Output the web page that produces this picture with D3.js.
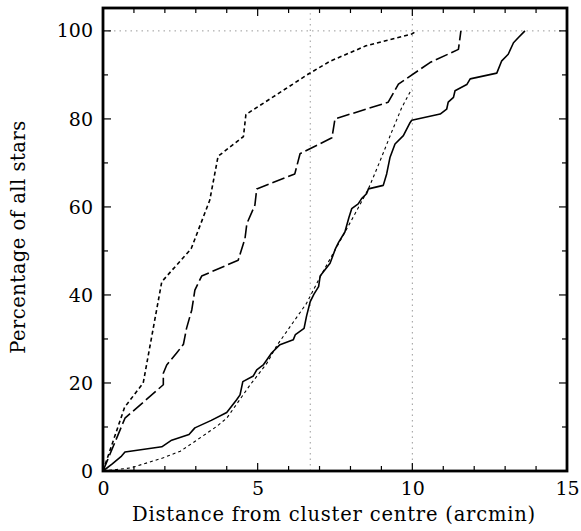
<!DOCTYPE html>
<html>
<head>
<meta charset="utf-8">
<script src="https://cdn.jsdelivr.net/npm/d3@7"></script>
<style>
  html, body { margin: 0; padding: 0; background: #fff; }
  svg { display: block; }
  text { font-family: "DejaVu Serif", "Liberation Serif", serif; fill: #000; }
</style>
</head>
<body>
<svg id="chart" width="581" height="531"></svg>
<script>
// Cumulative radial distributions: [distance (arcmin), percentage of all stars]
const brightStars = [[0,0],[0.7,14.5],[1.3,20],[1.9,43],[2.85,50.5],[3.45,61.5],[3.72,71.5],[4.54,76],[4.62,81],[5.5,85],[6.64,90.2],[7.34,93.1],[8.5,96.6],[9.98,99.3],[10.15,100]];
const intermediateStars = [[0,0],[0.71,12],[1.95,19.6],[1.95,22.2],[2.06,24.1],[2.38,26.8],[2.6,28.8],[2.7,32.4],[2.87,36.6],[2.97,41.1],[3.19,44.3],[4.37,47.9],[4.59,52.8],[4.65,56.2],[4.91,60.4],[4.97,64.1],[6.2,67.5],[6.37,72.1],[7.4,75.7],[7.5,80],[9.22,83.8],[9.55,87.9],[10.57,92.8],[11.49,95.8],[11.57,100]];
const allStars = [[0,0],[0.3,1.6],[0.6,3.4],[0.71,4.3],[1.9,5.5],[2.22,7],[2.78,8.3],[2.97,9.8],[3.5,11.5],[4.0,13.3],[4.32,16.2],[4.43,17.3],[4.52,20.3],[4.86,21.6],[4.97,23],[5.18,24.1],[5.45,26.8],[5.72,28.7],[6.15,29.8],[6.22,31],[6.5,32.4],[6.58,35.2],[6.7,38.5],[6.82,40.2],[6.97,41.9],[7.02,44.3],[7.34,47.2],[7.52,50.6],[7.62,52],[7.82,54.3],[7.95,57.6],[8.04,59.6],[8.25,60.7],[8.36,61.9],[8.52,63],[8.58,64.1],[9.06,64.9],[9.17,67.5],[9.28,71.3],[9.44,74.3],[9.71,76.2],[9.93,79.2],[9.98,79.7],[10.9,81.1],[11.11,82.2],[11.16,83.8],[11.33,84.9],[11.38,86.4],[11.76,87.8],[11.87,89.1],[12.73,90.4],[12.89,93.2],[13.1,94.7],[13.27,97.3],[13.43,98.5],[13.64,100]];
const modelProfile = [[0,0],[0.9,0.7],[1.95,3],[2.5,4.5],[3.03,7],[3.67,10.1],[4.0,12],[4.75,19.5],[5.3,24.5],[5.62,28.5],[6.58,38.1],[7.02,44.1],[8.09,57.7],[8.58,64.1],[8.96,70.5],[9.33,77],[9.66,82.6],[9.98,86.8]];

const xTicks = [0, 5, 10, 15];
const yTicks = [0, 20, 40, 60, 80, 100];
const xMinorTicks = d3.range(0, 16, 1);
const yMinorTicks = d3.range(0, 101, 10);
const referenceRadii = [6.7, 10];
const fullLevel = 100;

const margin = { left: 103, right: 14, top: 8, bottom: 60 };
const W = 581, H = 531;
const x = d3.scaleLinear().domain([0, 15]).range([margin.left, W - margin.right]);
const y = d3.scaleLinear().domain([0, 105.2]).range([H - margin.bottom, margin.top]);

const svg = d3.select("#chart");

// reference guide lines
const guides = svg.append("g").attr("stroke", "#9a9a9a").attr("stroke-width", 1).attr("stroke-dasharray", "1.5,4");
guides.append("line")
  .attr("x1", x(0)).attr("x2", x(15))
  .attr("y1", y(fullLevel)).attr("y2", y(fullLevel));
guides.selectAll("line.v").data(referenceRadii).join("line")
  .attr("class", "v")
  .attr("x1", d => x(d)).attr("x2", d => x(d))
  .attr("y1", y(0)).attr("y2", y(104));

// curves
const line = d3.line().x(d => x(d[0])).y(d => y(d[1]));
const curves = [
  { data: modelProfile, dash: "3,3", width: 1.1 },
  { data: allStars, dash: null, width: 1.6 },
  { data: intermediateStars, dash: "13,4", width: 1.6 },
  { data: brightStars, dash: "4,3", width: 1.6 }
];
curves.forEach(c => {
  svg.append("path")
    .datum(c.data)
    .attr("d", line)
    .attr("fill", "none")
    .attr("stroke", "#000")
    .attr("stroke-width", c.width)
    .attr("stroke-linejoin", "round")
    .attr("stroke-dasharray", c.dash);
});

// ticks on all four sides, pointing inward
const tickG = svg.append("g").attr("stroke", "#000").attr("stroke-width", 1.2);
function tickLen(isMajor) { return isMajor ? 8 : 5; }
xMinorTicks.forEach(v => {
  const len = tickLen(v % 5 === 0);
  tickG.append("line").attr("x1", x(v)).attr("x2", x(v)).attr("y1", y.range()[0]).attr("y2", y.range()[0] - len);
  tickG.append("line").attr("x1", x(v)).attr("x2", x(v)).attr("y1", y.range()[1]).attr("y2", y.range()[1] + len);
});
yMinorTicks.forEach(v => {
  const len = tickLen(v % 20 === 0);
  tickG.append("line").attr("y1", y(v)).attr("y2", y(v)).attr("x1", x.range()[0]).attr("x2", x.range()[0] + len);
  tickG.append("line").attr("y1", y(v)).attr("y2", y(v)).attr("x1", x.range()[1]).attr("x2", x.range()[1] - len);
});

// frame
svg.append("rect")
  .attr("x", x.range()[0]).attr("y", y.range()[1])
  .attr("width", x.range()[1] - x.range()[0])
  .attr("height", y.range()[0] - y.range()[1])
  .attr("fill", "none").attr("stroke", "#000").attr("stroke-width", 2.8);

// tick labels via axis generators (lines hidden, text only)
const xAxis = svg.append("g")
  .attr("transform", `translate(0,${y.range()[0]})`)
  .call(d3.axisBottom(x).tickValues(xTicks).tickSize(0).tickPadding(11).tickFormat(d3.format("d")));
const yAxis = svg.append("g")
  .attr("transform", `translate(${x.range()[0]},0)`)
  .call(d3.axisLeft(y).tickValues(yTicks).tickSize(0).tickPadding(10).tickFormat(d3.format("d")));
[xAxis, yAxis].forEach(g => {
  g.select(".domain").remove();
  g.selectAll("text").attr("font-family", "DejaVu Serif, serif").attr("font-size", 19).attr("fill", "#000");
});

// axis titles
svg.append("text")
  .attr("x", 334).attr("y", 521)
  .attr("text-anchor", "middle")
  .attr("font-size", 19.5)
  .attr("letter-spacing", 0.8)
  .text("Distance from cluster centre (arcmin)");
svg.append("text")
  .attr("transform", "translate(25,237) rotate(-90)")
  .attr("text-anchor", "middle")
  .attr("font-size", 19.5)
  .attr("letter-spacing", 0.5)
  .text("Percentage of all stars");
</script>
</body>
</html>
